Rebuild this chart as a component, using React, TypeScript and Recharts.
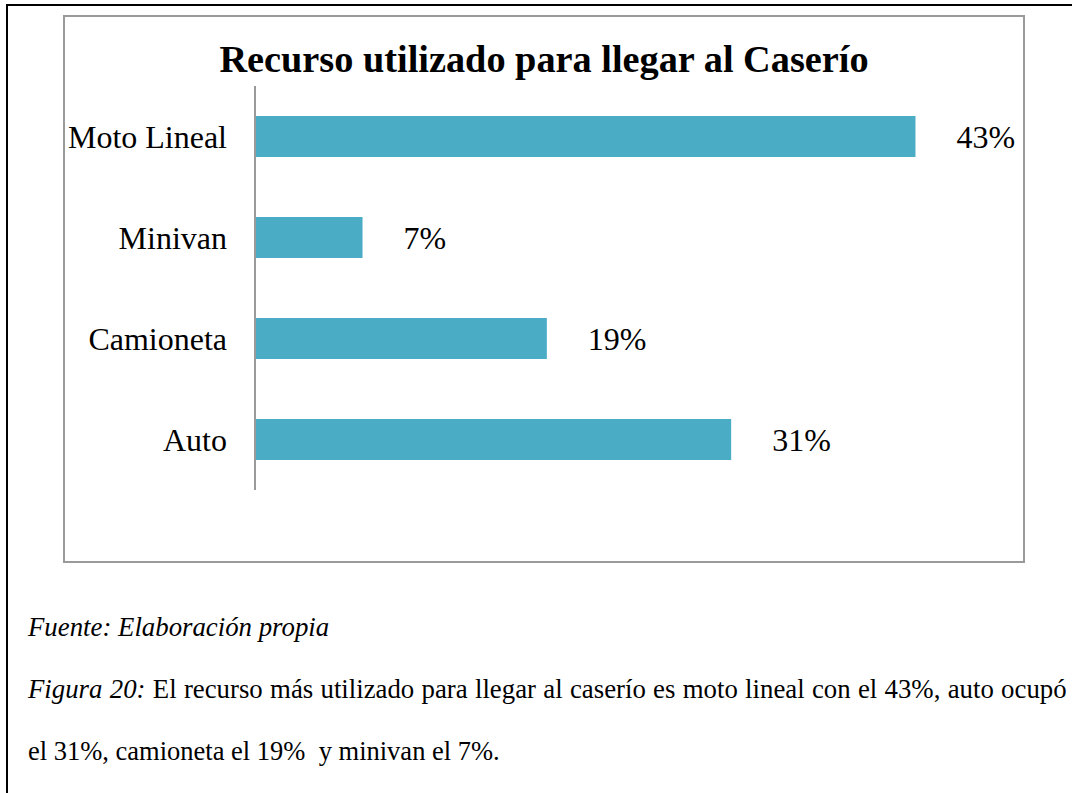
import { Bar, BarChart, LabelList, XAxis, YAxis } from "recharts";

const categories = ["Moto Lineal", "Minivan", "Camioneta", "Auto"];
const shares = [43, 7, 19, 31];

const data = categories.map((name, i) => ({ name, value: shares[i] }));

const serif = "'Liberation Serif', 'Times New Roman', serif";

export default function App() {
  return (
    <div
      style={{
        position: "absolute",
        left: 0,
        top: 0,
        width: 1072,
        height: 793,
        background: "#fff",
        fontFamily: serif,
        overflow: "hidden",
      }}
    >
      {/* page frame */}
      <div
        style={{
          position: "absolute",
          left: 6,
          top: 4,
          width: 1080,
          height: 800,
          borderLeft: "2px solid #000",
          borderTop: "2px solid #000",
        }}
      />
      {/* chart box */}
      <div
        style={{
          position: "absolute",
          left: 63,
          top: 15,
          width: 962,
          height: 548,
          border: "2px solid #9a9a9a",
          boxSizing: "border-box",
        }}
      >
        <BarChart
          width={958}
          height={544}
          data={data}
          layout="vertical"
          margin={{ top: 69, right: 0, bottom: 71, left: 0 }}
          barSize={41}
        >
          <XAxis type="number" domain={[0, 50]} hide />
          <YAxis
            type="category"
            dataKey="name"
            width={190}
            tickLine={false}
            tickSize={0}
            tickMargin={28}
            axisLine={{ stroke: "#9a9a9a", strokeWidth: 2 }}
            tick={{ fontSize: 32, fill: "#000", fontFamily: serif }}
          />
          <Bar dataKey="value" fill="#4BACC6" isAnimationActive={false}>
            <LabelList
              dataKey="value"
              position="right"
              offset={41}
              formatter={(v: number) => `${v}%`}
              style={{ fontSize: 32, fill: "#000", fontFamily: serif }}
            />
          </Bar>
        </BarChart>
        <div
          style={{
            position: "absolute",
            left: 0,
            top: 23,
            width: 958,
            textAlign: "center",
            fontSize: 38.3,
            lineHeight: "38px",
            fontWeight: "bold",
            color: "#000",
          }}
        >
          Recurso utilizado para llegar al Caserío
        </div>
      </div>
      <div
        style={{
          position: "absolute",
          left: 28,
          top: 614,
          fontSize: 26.8,
          lineHeight: "26.5px",
          fontStyle: "italic",
          whiteSpace: "nowrap",
        }}
      >
        Fuente: Elaboración propia
      </div>
      <div
        style={{
          position: "absolute",
          left: 28,
          top: 676,
          fontSize: 26.8,
          lineHeight: "26.5px",
          whiteSpace: "nowrap",
          wordSpacing: 0.6,
        }}
      >
        <i>Figura 20:</i> El recurso más utilizado para llegar al caserío es
        moto lineal con el 43%, auto ocupó
      </div>
      <div
        style={{
          position: "absolute",
          left: 28,
          top: 738,
          fontSize: 26.5,
          lineHeight: "26.5px",
          whiteSpace: "pre",
        }}
      >
        {"el 31%, camioneta el 19%  y minivan el 7%."}
      </div>
    </div>
  );
}
